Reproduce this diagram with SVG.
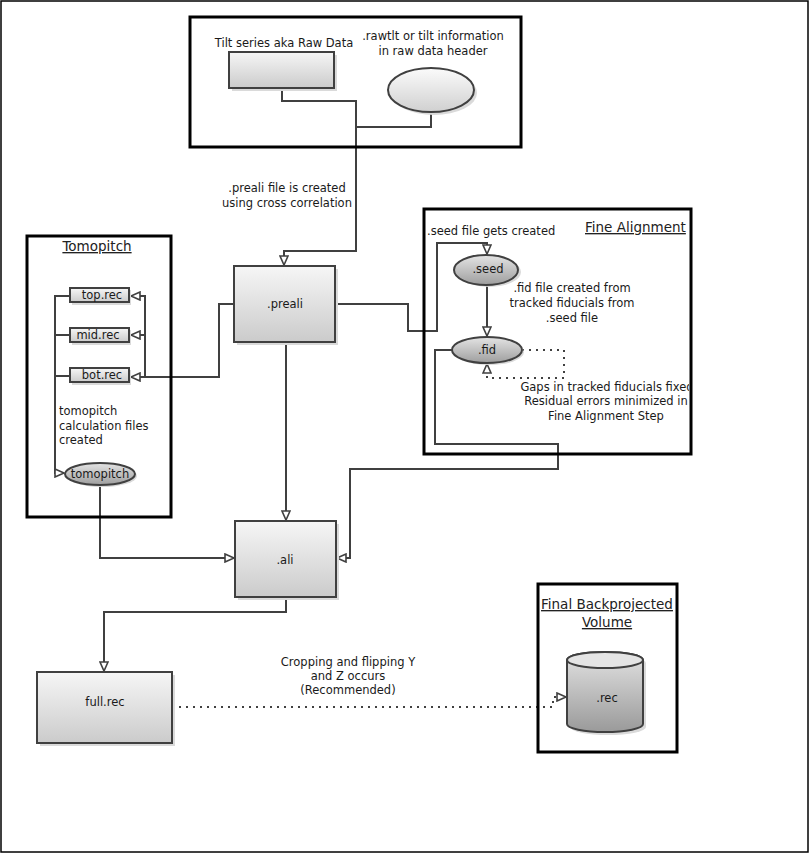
<svg xmlns="http://www.w3.org/2000/svg" width="810" height="854" viewBox="0 0 810 854">
<style>
text{font-family:"DejaVu Sans","Liberation Sans",sans-serif;font-size:11.5px;fill:#1a1a1a}
.t{font-size:13.5px;text-decoration:underline;fill:#222}
.c{text-anchor:middle}
.frame{fill:none;stroke:#000;stroke-width:3}
.node{stroke:#404040;stroke-width:2}
.sh{fill:#dadada}
.conn{fill:none;stroke:#404040;stroke-width:2}
.dot{stroke-dasharray:2 5}
</style>
<defs>
<linearGradient id="gr" x1="0" y1="0" x2="0" y2="1"><stop offset="0" stop-color="#f6f6f6"/><stop offset="1" stop-color="#cbcbcb"/></linearGradient>
<linearGradient id="ge" x1="0" y1="0" x2="0" y2="1"><stop offset="0" stop-color="#e4e4e4"/><stop offset="1" stop-color="#9e9e9e"/></linearGradient>
<linearGradient id="gl" x1="0" y1="0" x2="0" y2="1"><stop offset="0" stop-color="#fbfbfb"/><stop offset="1" stop-color="#d0d0d0"/></linearGradient>
<linearGradient id="gc" x1="0" y1="0" x2="0" y2="1"><stop offset="0" stop-color="#e2e2e2"/><stop offset="1" stop-color="#9a9a9a"/></linearGradient>
<clipPath id="fineclip"><rect x="424" y="209" width="265" height="245"/></clipPath>
<marker id="a" markerUnits="userSpaceOnUse" markerWidth="12" markerHeight="10" viewBox="0 0 12 10" refX="10" refY="5" orient="auto"><path d="M1,1 L10,5 L1,9 Z" fill="#fff" stroke="#404040" stroke-width="1.6"/></marker>
</defs>
<rect x="1" y="1" width="807" height="851" fill="#fff" stroke="#000" stroke-width="1.5"/>

<g id="connectors">
<path class="conn" d="M282,88 V101 H356 V251 H284 V265" marker-end="url(#a)"/>
<path class="conn" d="M431,112 V127 H356"/>
<path class="conn" d="M234,304 H219 V377 H131" marker-end="url(#a)"/>
<path class="conn" d="M145,377 V296 H131" marker-end="url(#a)"/>
<path class="conn" d="M145,335 H131" marker-end="url(#a)"/>
<path class="conn" d="M70,296 H55 V473 H64" marker-end="url(#a)"/>
<path class="conn" d="M70,335 H56"/>
<path class="conn" d="M70,376 H56"/>
<path class="conn" d="M335,304 H408 V331 H437 V243 H487 V254" marker-end="url(#a)"/>
<path class="conn" d="M487,285 V336" marker-end="url(#a)"/>
<path class="conn dot" d="M522,350 H564 V378 H487 V364" marker-end="url(#a)"/>
<path class="conn" d="M452,350 H435 V444 H558 V469 H350 V558 H337" marker-end="url(#a)"/>
<path class="conn" d="M286,342 V520" marker-end="url(#a)"/>
<path class="conn" d="M100,485 V558 H234" marker-end="url(#a)"/>
<path class="conn" d="M286,597 V612 H104 V671" marker-end="url(#a)"/>
<path class="conn dot" d="M172,707 H553 V697 H566" marker-end="url(#a)"/>
</g>

<g id="raw-data-group">
<rect class="frame" x="190" y="17" width="331" height="130"/>
<text class="c" x="284" y="47">Tilt series aka Raw Data</text>
<text class="c" x="433" y="40">.rawtlt or tilt information</text>
<text class="c" x="433" y="55">in raw data header</text>
</g>
<g id="tilt-series">
<rect class="sh" x="232" y="55" width="105" height="36"/>
<rect class="node" x="229" y="52" width="105" height="36" fill="url(#gr)"/>
</g>
<g id="rawtlt">
<ellipse class="sh" cx="434" cy="93" rx="43" ry="22"/>
<ellipse class="node" cx="431" cy="90" rx="43" ry="22" fill="url(#gl)"/>
</g>

<g id="preali-label">
<text class="c" x="287" y="192">.preali file is created</text>
<text class="c" x="287" y="207">using cross correlation</text>
</g>
<g id="preali">
<rect class="sh" x="237" y="269" width="101" height="76"/>
<rect class="node" x="234" y="266" width="101" height="76" fill="url(#gr)"/>
<text class="c" x="285" y="308">.preali</text>
</g>

<g id="tomopitch-group">
<rect class="frame" x="27" y="236" width="144" height="281"/>
<text class="t c" x="97" y="251">Tomopitch</text>
<text x="59" y="415">tomopitch</text>
<text x="59" y="430">calculation files</text>
<text x="59" y="444">created</text>
</g>
<g id="top-rec">
<rect class="sh" x="72" y="290" width="59" height="15"/>
<rect class="node" x="70" y="288" width="59" height="14" fill="url(#gr)"/>
<text class="c" x="102" y="299">top.rec</text>
</g>
<g id="mid-rec">
<rect class="sh" x="72" y="330" width="59" height="15"/>
<rect class="node" x="70" y="328" width="59" height="14" fill="url(#gr)"/>
<text class="c" x="98" y="339">mid.rec</text>
</g>
<g id="bot-rec">
<rect class="sh" x="72" y="370" width="59" height="15"/>
<rect class="node" x="70" y="368" width="59" height="14" fill="url(#gr)"/>
<text class="c" x="102" y="379">bot.rec</text>
</g>
<g id="tomopitch">
<ellipse class="sh" cx="102" cy="476" rx="35" ry="11"/>
<ellipse class="node" cx="100" cy="474" rx="35" ry="11" fill="url(#ge)"/>
<text class="c" x="100" y="478">tomopitch</text>
</g>

<g id="fine-alignment-group">
<text class="c" x="607" y="391" clip-path="url(#fineclip)">Gaps in tracked fiducials fixed</text>
<rect class="frame" x="424" y="209" width="267" height="245"/>
<text class="t" x="585" y="232">Fine Alignment</text>
<text x="427" y="235">.seed file gets created</text>
<text class="c" x="572" y="292">.fid file created from</text>
<text class="c" x="572" y="307">tracked fiducials from</text>
<text class="c" x="572" y="322">.seed file</text>
<text class="c" x="606" y="405">Residual errors minimized in</text>
<text class="c" x="606" y="420">Fine Alignment Step</text>
</g>
<g id="seed">
<ellipse class="sh" cx="489" cy="272" rx="32" ry="15"/>
<ellipse class="node" cx="486" cy="270" rx="32" ry="15" fill="url(#ge)"/>
<text class="c" x="488" y="273">.seed</text>
</g>
<g id="fid">
<ellipse class="sh" cx="489" cy="352" rx="35" ry="13"/>
<ellipse class="node" cx="487" cy="350" rx="35" ry="13" fill="url(#ge)"/>
<text class="c" x="487" y="354">.fid</text>
</g>

<g id="ali">
<rect class="sh" x="238" y="524" width="101" height="76"/>
<rect class="node" x="235" y="521" width="101" height="76" fill="url(#gr)"/>
<text class="c" x="285" y="564">.ali</text>
</g>

<g id="full-rec">
<rect class="sh" x="40" y="675" width="135" height="71"/>
<rect class="node" x="37" y="672" width="135" height="71" fill="url(#gr)"/>
<text class="c" x="105" y="706">full.rec</text>
</g>

<g id="crop-label">
<text class="c" x="348" y="666">Cropping and flipping Y</text>
<text class="c" x="348" y="680">and Z occurs</text>
<text class="c" x="348" y="694">(Recommended)</text>
</g>

<g id="final-group">
<rect class="frame" x="538" y="584" width="139" height="168"/>
<text class="t c" x="607" y="609">Final Backprojected</text>
<text class="t c" x="607" y="627">Volume</text>
</g>
<g id="rec">
<path class="sh" d="M570,663 A38,8 0 0 1 646,663 V727 A38,8 0 0 1 570,727 Z"/>
<path class="node" d="M567,660 A38,8 0 0 1 643,660 V724 A38,8 0 0 1 567,724 Z" fill="url(#gc)"/>
<ellipse class="node" cx="605" cy="660" rx="38" ry="8" fill="#e4e4e4"/>
<text class="c" x="607" y="702">.rec</text>
</g>
</svg>
